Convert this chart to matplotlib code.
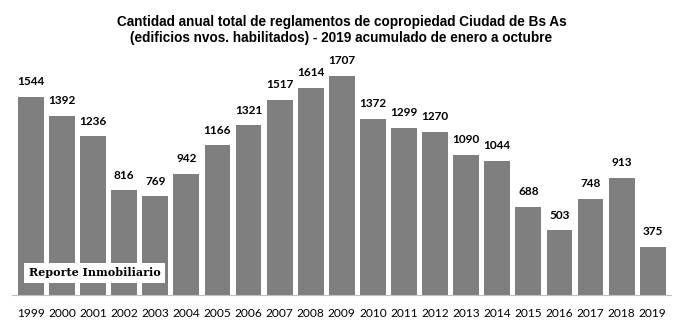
import matplotlib
matplotlib.use("Agg")
import matplotlib.pyplot as plt

years = [str(y) for y in range(1999, 2020)]
values = [1544, 1392, 1236, 816, 769, 942, 1166, 1321, 1517, 1614, 1707,
          1372, 1299, 1270, 1090, 1044, 688, 503, 748, 913, 375]

title = ("Cantidad anual total de reglamentos de copropiedad Ciudad de Bs As\n"
         "(edificios nvos. habilitados) - 2019 acumulado de enero a octubre")

fig = plt.figure(figsize=(6.83, 3.32), dpi=100)
ax = fig.add_axes([0.018, 0.111, 0.965, 0.74])

x = range(len(years))
ax.bar(x, values, width=0.83, color="#7f7f7f", zorder=2)
for xi, v in zip(x, values):
    ax.text(xi, v + 75, str(v), ha="center", va="bottom", fontsize=8.5,
            fontweight="bold", family=["Lato", "DejaVu Sans"])

ax.set_xlim(-0.6, len(years) - 0.4)
ax.set_ylim(0, 1910)
ax.set_xticks(list(x))
ax.set_xticklabels(years, fontsize=8.6, family=["Lato", "DejaVu Sans"])
ax.tick_params(axis="x", length=0, pad=9)
ax.set_yticks([])
for s in ["top", "right", "left"]:
    ax.spines[s].set_visible(False)
ax.spines["bottom"].set_color("#bfbfbf")
ax.spines["bottom"].set_linewidth(0.8)

fig.text(0.5, 0.955, title, ha="center", va="top", fontsize=9.8,
         fontweight="bold", linespacing=1.15,
         family=["Liberation Sans Narrow", "Liberation Sans", "DejaVu Sans"])

fig.text(0.042, 0.178, "Reporte Inmobiliario", ha="left", va="center",
         fontsize=8, fontweight="bold", family=["DejaVu Serif"],
         bbox=dict(facecolor="white", edgecolor="none", pad=3.5), zorder=5)

fig.savefig("out.png", dpi=100)
